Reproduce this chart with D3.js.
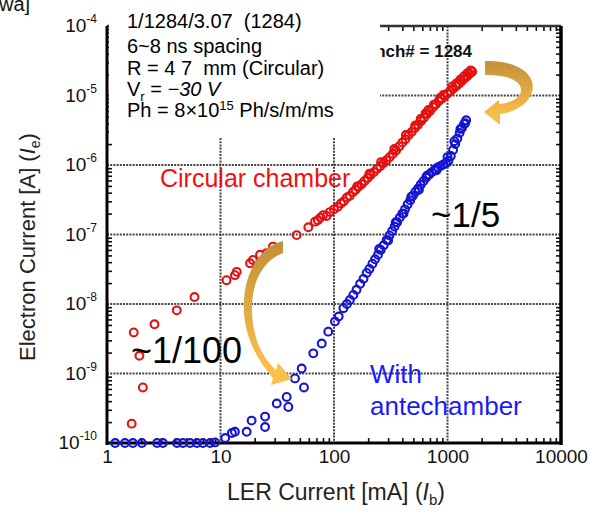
<!DOCTYPE html>
<html>
<head>
<meta charset="utf-8">
<script src="https://cdn.jsdelivr.net/npm/d3@7"></script>
<style>
  body { margin: 0; background: #fff; }
  svg { display: block; font-family: "Liberation Sans", Arial, sans-serif; }
</style>
</head>
<body>
<svg id="chart" width="589" height="512"></svg>
<script>
// tick values
var xTicks = [1, 10, 100, 1000, 10000]
var yTicks = [-10, -9, -8, -7, -6, -5, -4]

// circular chamber: [LER current mA, electron current A]
var circularData = [
  [1.65, 1.9e-10], [2.07, 6.3e-10], [1.93, 1.8e-9], [1.72, 3.9e-9], [2.62, 5.1e-9],
  [4.12, 8.1e-9], [5.9, 1.26e-8], [11.3, 2.2e-8], [13.4, 2.6e-8], [13.9, 2.9e-8],
  [18.2, 3.85e-8], [19.3, 4.3e-8], [22.3, 5.1e-8], [25.5, 5.4e-8], [29, 6.7e-8],
  [46.9, 9.8e-8], [59.4, 1.27e-7], [68, 1.53e-7], [72, 1.6e-7], [76, 1.75e-7],
  [80, 1.9e-7], [86, 1.85e-7], [92, 2.1e-7], [100, 2.3e-7], [108, 2.5e-7],
  [115, 2.8e-7], [122, 3.0e-7], [130, 3.4e-7], [138, 3.6e-7], [147, 4.1e-7],
  [155, 4.4e-7], [165, 4.9e-7], [175, 5.3e-7], [186, 5.9e-7], [198, 6.5e-7],
  [210, 7.2e-7], [225, 7.9e-7], [240, 8.8e-7], [255, 9.6e-7], [272, 1.06e-6],
  [290, 1.17e-6], [310, 1.3e-6], [330, 1.45e-6], [352, 1.62e-6], [375, 1.85e-6],
  [400, 2.1e-6], [425, 2.35e-6], [455, 2.7e-6], [485, 3.0e-6], [515, 3.4e-6],
  [550, 3.8e-6], [585, 4.3e-6], [620, 4.8e-6], [660, 5.4e-6], [700, 6.0e-6],
  [745, 6.8e-6], [790, 7.5e-6], [840, 8.3e-6], [890, 9.0e-6], [945, 9.8e-6],
  [1000, 1.07e-5], [1060, 1.15e-5], [1120, 1.25e-5], [1190, 1.36e-5], [1260, 1.48e-5],
  [1330, 1.6e-5], [1410, 1.75e-5], [1490, 1.9e-5], [1570, 2.05e-5], [1650, 2.2e-5],
  [160, 4.9e-7], [205, 7.5e-7], [260, 1.1e-6], [340, 1.7e-6], [430, 2.7e-6],
  [520, 3.7e-6], [640, 5.5e-6], [760, 7.4e-6], [920, 1.02e-5], [1100, 1.35e-5],
  [1300, 1.7e-5], [1500, 2.1e-5], [1200, 1.5e-5], [1400, 1.9e-5], [1600, 2.3e-5],
  [860, 9.2e-6], [680, 6.2e-6], [580, 4.6e-6]
]

// with antechamber
var antechamberData = [
  [1.18, 1e-10], [1.44, 1e-10], [1.69, 1e-10], [2.03, 1e-10], [2.76, 1e-10],
  [3.11, 1e-10], [4.14, 1e-10], [4.67, 1e-10], [5.39, 1e-10], [6.2, 1e-10],
  [7.0, 1e-10], [8.1, 1e-10], [8.95, 1.02e-10], [11, 1.18e-10], [12.6, 1.39e-10],
  [13.4, 1.45e-10], [17, 1.45e-10], [18.8, 2.1e-10], [24.7, 2.4e-10], [24.7, 1.7e-10],
  [31.3, 3.7e-10], [38.3, 4.6e-10], [39.6, 3.3e-10], [45.3, 8.5e-10], [51.9, 1.18e-9],
  [54.4, 6.3e-10], [65.7, 1.95e-9], [78, 2.7e-9], [89, 4e-9], [102, 5.6e-9],
  [110, 6.6e-9], [121, 8.7e-9], [130, 1.0e-8], [138, 1.14e-8], [148, 1.35e-8],
  [158, 1.6e-8], [170, 1.95e-8], [182, 2.3e-8], [194, 2.8e-8], [205, 3.2e-8],
  [218, 3.8e-8], [230, 4.4e-8], [244, 5.1e-8], [258, 6.0e-8], [274, 7.0e-8],
  [291, 8.3e-8], [308, 9.7e-8], [325, 1.12e-7], [342, 1.3e-7], [360, 1.5e-7],
  [380, 1.75e-7], [400, 2.0e-7], [422, 2.3e-7], [445, 2.7e-7], [470, 3.1e-7],
  [495, 3.6e-7], [520, 4.1e-7], [550, 4.6e-7], [580, 5.2e-7], [615, 5.9e-7],
  [650, 6.6e-7], [690, 7.3e-7], [730, 7.9e-7], [775, 8.6e-7], [820, 9.2e-7],
  [870, 9.7e-7], [920, 1.02e-6], [970, 1.06e-6], [1020, 1.15e-6], [1070, 1.35e-6],
  [1120, 1.65e-6], [1170, 2.0e-6], [1220, 2.4e-6], [1280, 2.9e-6], [1340, 3.4e-6],
  [1400, 3.9e-6], [1460, 4.4e-6],
  [250, 6.2e-8], [300, 8.2e-8], [350, 1.5e-7], [410, 2.0e-7], [480, 3.5e-7],
  [560, 4.4e-7], [660, 7.0e-7], [800, 8.4e-7], [1000, 1.3e-6], [1150, 2.2e-6],
  [1300, 3.3e-6], [1430, 4.0e-6]
]

var svg = d3.select("#chart")
var plotLeft = 107, plotRight = 561, plotTop = 26, plotBottom = 443

var x = d3.scaleLog().domain([1, 10000]).range([plotLeft, plotRight])
var y = d3.scaleLog().domain([1e-10, 1e-4]).range([plotBottom, plotTop])

var isMajor = function(v){ return Math.abs(Math.log10(v) - Math.round(Math.log10(v))) < 1e-6 }
var xMinor = x.ticks().filter(function(v){ return !isMajor(v) })
var yMinor = y.ticks().filter(function(v){ return !isMajor(v) })

var defs = svg.append("defs")
function addGrad(id, y1, y2){
    var g = defs.append("linearGradient").attr("id", id)
        .attr("gradientUnits", "userSpaceOnUse")
        .attr("x1", 0).attr("x2", 0).attr("y1", y1).attr("y2", y2)
    g.append("stop").attr("offset", "0").attr("stop-color", "#c4913a")
    g.append("stop").attr("offset", "1").attr("stop-color", "#fcc04a")
}
addGrad("grad_top", 62, 118)
addGrad("grad_mid", 245, 370)

// grid
svg.append("g").selectAll("line").data(xTicks.slice(1, -1))
    .enter().append("line")
    .attr("x1", function(d){ return x(d) }).attr("x2", function(d){ return x(d) })
    .attr("y1", plotTop).attr("y2", plotBottom)
    .attr("stroke", "#444").attr("stroke-width", 2).attr("stroke-dasharray", "2,1.2")
svg.append("g").selectAll("line").data(yTicks.slice(1, -1))
    .enter().append("line")
    .attr("y1", function(d){ return y(Math.pow(10, d)) }).attr("y2", function(d){ return y(Math.pow(10, d)) })
    .attr("x1", plotLeft).attr("x2", plotRight)
    .attr("stroke", "#444").attr("stroke-width", 2).attr("stroke-dasharray", "2,1.2")

// minor ticks, inward on all four sides
function tickStyle(g){
    g.select(".domain").remove()
    g.selectAll("line").attr("stroke", "#111").attr("stroke-width", 1.6)
    g.selectAll("text").remove()
}
svg.append("g").attr("transform", "translate(0," + plotBottom + ")")
    .call(d3.axisBottom(x).tickValues(xMinor).tickSize(-5)).call(tickStyle)
svg.append("g").attr("transform", "translate(0," + plotTop + ")")
    .call(d3.axisTop(x).tickValues(xMinor).tickSize(-5)).call(tickStyle)
svg.append("g").attr("transform", "translate(" + plotLeft + ",0)")
    .call(d3.axisLeft(y).tickValues(yMinor).tickSize(-5)).call(tickStyle)
svg.append("g").attr("transform", "translate(" + plotRight + ",0)")
    .call(d3.axisRight(y).tickValues(yMinor).tickSize(-5)).call(tickStyle)

// frame
svg.append("line").attr("x1", plotLeft).attr("x2", plotRight).attr("y1", plotTop).attr("y2", plotTop)
    .attr("stroke", "#333").attr("stroke-width", 2.5)
svg.append("line").attr("x1", plotLeft).attr("x2", plotRight).attr("y1", plotBottom).attr("y2", plotBottom)
    .attr("stroke", "#000").attr("stroke-width", 3)
svg.append("line").attr("x1", plotLeft).attr("x2", plotLeft).attr("y1", plotTop).attr("y2", plotBottom + 2)
    .attr("stroke", "#000").attr("stroke-width", 3)
svg.append("line").attr("x1", plotRight).attr("x2", plotRight).attr("y1", plotTop).attr("y2", plotBottom + 2)
    .attr("stroke", "#000").attr("stroke-width", 3.5)

// x tick labels
var xAxis = svg.append("g").attr("transform", "translate(0," + plotBottom + ")")
    .call(d3.axisBottom(x).tickValues(xTicks).tickSize(0).tickPadding(7).tickFormat(d3.format("d")))
xAxis.select(".domain").remove()
xAxis.selectAll("text").attr("font-size", 19).attr("fill", "#111")
    .attr("font-family", "Liberation Sans, Arial, sans-serif")

// y tick labels with superscripts
var yLab = svg.append("g").selectAll("text").data(yTicks)
    .enter().append("text")
    .attr("x", 97).attr("y", function(d){ return y(Math.pow(10, d)) + 6 })
    .attr("text-anchor", "end").attr("fill", "#111").attr("font-size", 19)
yLab.append("tspan").text("10")
yLab.append("tspan").attr("font-size", 12).attr("dy", -9).text(function(d){ return d })

// data markers
svg.append("g").selectAll("circle").data(circularData)
    .enter().append("circle")
    .attr("cx", function(d){ return x(d[0]) }).attr("cy", function(d){ return y(d[1]) })
    .attr("r", 3.9).attr("fill", "none").attr("stroke", "#e41010").attr("stroke-width", 2.1)
svg.append("g").selectAll("circle").data(antechamberData)
    .enter().append("circle")
    .attr("cx", function(d){ return x(d[0]) }).attr("cy", function(d){ return y(d[1]) })
    .attr("r", 3.9).attr("fill", "none").attr("stroke", "#1414d4").attr("stroke-width", 2.1)

// partly hidden bunch label
svg.append("text").attr("x", 472).attr("y", 57).attr("text-anchor", "end")
    .attr("font-size", 17).attr("font-weight", "bold").attr("fill", "#111")
    .text("Bunch# = 1284")

// white box with the run conditions
svg.append("rect").attr("x", 109).attr("y", 0).attr("width", 271).attr("height", 137).attr("fill", "#fff")

var info = svg.append("g").attr("font-size", 20).attr("fill", "#000")
info.append("text").attr("x", 127).attr("y", 28).text("1/1284/3.07\u00a0\u00a0(1284)")
info.append("text").attr("x", 127).attr("y", 53).text("6~8 ns spacing")
info.append("text").attr("x", 127).attr("y", 75).text("R = 4 7\u00a0\u00a0mm (Circular)")
var vr = info.append("text").attr("x", 127).attr("y", 96)
vr.append("tspan").text("V")
vr.append("tspan").attr("font-size", 13).attr("dy", 5).text("r")
vr.append("tspan").attr("dy", -5).text(" = ")
vr.append("tspan").attr("font-style", "italic").text("\u221230 V")
var ph = info.append("text").attr("x", 127).attr("y", 117)
ph.append("tspan").text("Ph = 8\u00d710")
ph.append("tspan").attr("font-size", 13).attr("dy", -7).text("15")
ph.append("tspan").attr("dy", 7).text(" Ph/s/m/ms")

// cropped fragment at the top-left corner
svg.append("text").attr("x", -1).attr("y", 11).attr("font-size", 20).attr("fill", "#111").text("wa]")

// arrows
svg.append("path")
    .attr("d", "M485,61 C518,60 537,75 532,92 C528,105 514,112 500,114 L500,125 L484,112 L499,100 L499,104 C511,103 521,98 521,90 C521,80 507,75 485,75 Z")
    .attr("fill", "url(#grad_top)")
svg.append("path")
    .attr("d", "M283,241 C262,246 246,268 244,300 C242,330 254,356 273,378 L271,385 L292,379 L278,363 L276,370 C260,356 251,332 252,305 C253,278 265,260 283,253 Z")
    .attr("fill", "url(#grad_mid)")

// annotations
svg.append("text").attr("x", 160).attr("y", 187).attr("font-size", 25).attr("fill", "#f01010").text("Circular chamber")
svg.append("text").attr("x", 131).attr("y", 363).attr("font-size", 36).attr("fill", "#000").text("~1/100")
svg.append("text").attr("x", 431).attr("y", 227).attr("font-size", 35).attr("fill", "#000").text("~1/5")
svg.append("text").attr("x", 370).attr("y", 383).attr("font-size", 26).attr("fill", "#1a1aff").text("With")
svg.append("text").attr("x", 370).attr("y", 415).attr("font-size", 26).attr("fill", "#1a1aff").text("antechamber")

// axis titles
svg.append("text").attr("x", 336).attr("y", 500).attr("text-anchor", "middle")
    .attr("font-size", 23).attr("fill", "#222")
    .text("LER Current [mA] (")
    .call(function(t){
        t.append("tspan").attr("font-style", "italic").text("I")
        t.append("tspan").attr("font-size", 15).attr("dy", 5).text("b")
        t.append("tspan").attr("dy", -5).text(")")
    })
var yt = svg.append("text").attr("transform", "translate(35,247) rotate(-90)")
    .attr("text-anchor", "middle").attr("font-size", 22).attr("fill", "#222")
    .text("Electron Current [A] (")
yt.append("tspan").attr("font-style", "italic").text("I")
yt.append("tspan").attr("font-size", 14).attr("dy", 5).text("e")
yt.append("tspan").attr("dy", -5).text(")")
</script>
</body>
</html>
